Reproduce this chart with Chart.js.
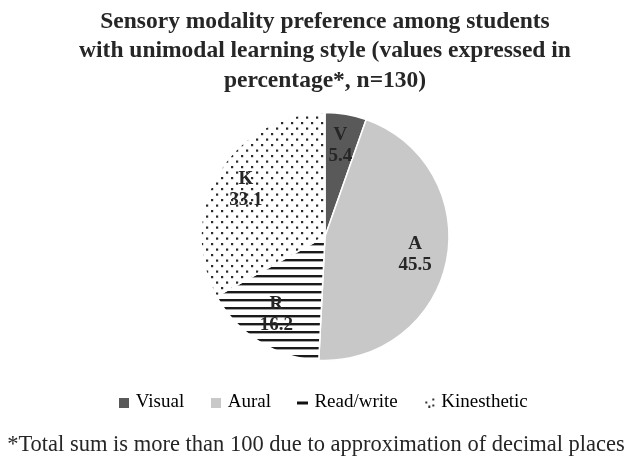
<!DOCTYPE html>
<html>
<head>
<meta charset="utf-8">
<script src="https://cdn.jsdelivr.net/npm/chart.js@4"></script>
<style>
  html, body { margin: 0; padding: 0; background: #fff; }
  #wrap { width: 632px; height: 467px; }
</style>
</head>
<body>
<div id="wrap"><canvas id="myChart" width="632" height="467"></canvas></div>
<script>
// data
var categories = ['Visual', 'Aural', 'Read/write', 'Kinesthetic'];
var shortLabels = ['V', 'A', 'R', 'K'];
var percentages = [5.4, 45.5, 16.2, 33.1];
var footnote = '*Total sum is more than 100 due to approximation of decimal places';

var serif = '"Liberation Serif", "Times New Roman", serif';

// stripes for Read/write
function makeStripes() {
    var c = document.createElement('canvas');
    c.width = 8; c.height = 8;
    var g = c.getContext('2d');
    g.fillStyle = '#fff';
    g.fillRect(0, 0, 8, 8);
    g.fillStyle = '#1a1a1a';
    g.fillRect(0, 3, 8, 2.4);
    return g.createPattern(c, 'repeat');
}

// staggered dots for Kinesthetic
function makeDots() {
    var c = document.createElement('canvas');
    c.width = 10; c.height = 11;
    var g = c.getContext('2d');
    g.fillStyle = '#fff';
    g.fillRect(0, 0, 10, 11);
    g.fillStyle = '#2a2a2a';
    g.fillRect(1, 1, 2.2, 2.2);
    g.fillRect(6, 6.5, 2.2, 2.2);
    return g.createPattern(c, 'repeat');
}

// legend markers
function squareIcon(color) {
    var c = document.createElement('canvas');
    c.width = 10; c.height = 10;
    var g = c.getContext('2d');
    g.fillStyle = color;
    g.fillRect(0, 0, 10, 10);
    return c;
}
function dashIcon() {
    var c = document.createElement('canvas');
    c.width = 11; c.height = 10;
    var g = c.getContext('2d');
    g.fillStyle = '#111';
    g.fillRect(0, 4, 11, 3);
    return c;
}
function dotsIcon() {
    var c = document.createElement('canvas');
    c.width = 11; c.height = 10;
    var g = c.getContext('2d');
    g.fillStyle = '#333';
    g.fillRect(1, 4, 2, 2);
    g.fillRect(8, 1, 2, 2);
    g.fillRect(8, 7, 2, 2);
    g.fillRect(4, 8, 2, 2);
    return c;
}

var fills = ['#595959', '#c8c8c8', makeStripes(), makeDots()];
var icons = [squareIcon('#595959'), squareIcon('#c8c8c8'), dashIcon(), dotsIcon()];

// labels inside the slices
var sliceLabels = {
    id: 'sliceLabels',
    afterDatasetsDraw: function (chart) {
        var ctx = chart.ctx;
        var meta = chart.getDatasetMeta(0);
        ctx.save();
        ctx.font = 'bold 19px ' + serif;
        ctx.fillStyle = '#262626';
        ctx.textAlign = 'center';
        ctx.textBaseline = 'middle';
        meta.data.forEach(function (arc, i) {
            var mid = (arc.startAngle + arc.endAngle) / 2;
            var r = arc.outerRadius * 0.74;
            var x = arc.x + Math.cos(mid) * r;
            var y = arc.y + Math.sin(mid) * r;
            ctx.fillText(shortLabels[i], x, y - 10.5);
            ctx.fillText(percentages[i].toFixed(1), x, y + 10.5);
        });
        ctx.restore();
    }
};

// footnote under the legend, centred on the whole canvas
var footnotePlugin = {
    id: 'footnote',
    afterDraw: function (chart) {
        var ctx = chart.ctx;
        ctx.save();
        ctx.font = '22.5px ' + serif;
        ctx.fillStyle = '#262626';
        ctx.textAlign = 'center';
        ctx.textBaseline = 'middle';
        ctx.fillText(footnote, chart.width / 2, chart.height - 22);
        ctx.restore();
    }
};

var ctx = document.getElementById('myChart').getContext('2d');

var myChart = new Chart(ctx, {
    type: 'pie',
    data: {
        labels: categories,
        datasets: [{
            data: percentages,
            backgroundColor: fills,
            borderColor: '#ffffff',
            borderWidth: 1.5
        }]
    },
    options: {
        responsive: false,
        animation: false,
        radius: 124,
        layout: { padding: { left: 18, right: 0, top: 0, bottom: 45 } },
        plugins: {
            title: {
                display: true,
                text: ['Sensory modality preference among students',
                       'with unimodal learning style (values expressed in',
                       'percentage*, n=130)'],
                color: '#262626',
                font: { family: serif, size: 23.5, weight: 'bold', lineHeight: 1.26 },
                padding: { top: 7, bottom: 14 }
            },
            legend: {
                position: 'bottom',
                labels: {
                    usePointStyle: true,
                    pointStyleWidth: 4,
                    color: '#262626',
                    font: { family: serif, size: 19 },
                    padding: 30,
                    generateLabels: function (chart) {
                        return categories.map(function (name, i) {
                            return {
                                text: name,
                                pointStyle: icons[i],
                                fillStyle: '#fff',
                                strokeStyle: '#fff',
                                lineWidth: 0,
                                hidden: false,
                                index: i
                            };
                        });
                    }
                }
            },
            tooltip: { enabled: false }
        }
    },
    plugins: [sliceLabels, footnotePlugin]
});
</script>
</body>
</html>
